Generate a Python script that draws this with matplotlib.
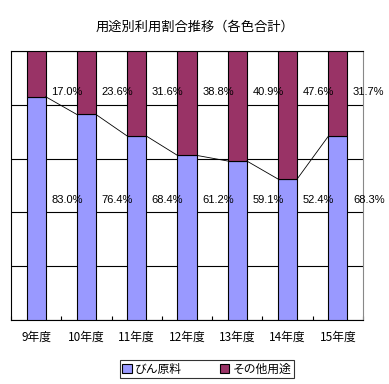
import matplotlib
matplotlib.use('Agg')
import matplotlib.pyplot as plt
import numpy as np

plt.rcParams['font.family'] = ['Noto Sans CJK JP', 'DejaVu Sans']

nendo = ['9年度', '10年度', '11年度', '12年度', '13年度', '14年度', '15年度']
bin_genryo = [83.0, 76.4, 68.4, 61.2, 59.1, 52.4, 68.3]
sonota = [17.0, 23.6, 31.6, 38.8, 40.9, 47.6, 31.7]

fig = plt.figure(figsize=(3.89, 3.84), dpi=100)
ax = fig.add_axes([11 / 389, 64 / 384, 352 / 389, 269 / 384])

x = np.arange(len(nendo))
w = 0.38
ax.bar(x, bin_genryo, w, color='#9999FF', edgecolor='black', linewidth=0.8,
       label='びん原料', zorder=3)
ax.bar(x, sonota, w, bottom=bin_genryo, color='#993366', edgecolor='black',
       linewidth=0.8, label='その他用途', zorder=3)

# 系列線
for i in range(len(x) - 1):
    ax.plot([x[i] + w / 2, x[i + 1] - w / 2], [bin_genryo[i], bin_genryo[i + 1]],
            color='black', linewidth=0.6, zorder=4)

# データラベル
for i in range(len(x)):
    ax.text(x[i] + 0.3, 44.6, f'{bin_genryo[i]:.1f}%', fontsize=8,
            ha='left', va='center', family='Liberation Sans', zorder=5)
    ax.text(x[i] + 0.3, 84.8, f'{sonota[i]:.1f}%', fontsize=8,
            ha='left', va='center', family='Liberation Sans', zorder=5, clip_on=False)

ax.set_xlim(-0.5, len(x) - 0.5)
ax.set_ylim(0, 100)
ax.set_yticks([0, 20, 40, 60, 80, 100])
ax.yaxis.grid(True, color='black', linewidth=0.8, zorder=0)
ax.tick_params(axis='y', left=False, labelleft=False)
ax.set_xticks(np.arange(len(x) + 1) - 0.5, minor=True)
ax.set_xticks(x)
ax.set_xticklabels(nendo, fontsize=8.5)
ax.tick_params(axis='x', which='major', length=0, pad=8)
ax.tick_params(axis='x', which='minor', direction='in', length=3, width=0.8)
for s in ['left', 'bottom', 'top']:
    ax.spines[s].set_color('black')
ax.spines['right'].set_color('#888888')

fig.suptitle('用途別利用割合推移（各色合計）', fontsize=9.5, y=0.945)

leg = fig.legend(loc='center', bbox_to_anchor=(207 / 389, 1 - 369 / 384), ncol=2,
                 fontsize=8.5, frameon=True, fancybox=False, edgecolor='black',
                 handlelength=0.8, handleheight=0.8, handletextpad=0.3,
                 columnspacing=3.2, borderpad=0.2, borderaxespad=0)
leg.get_frame().set_linewidth(0.8)

fig.savefig('out.png', dpi=100)
